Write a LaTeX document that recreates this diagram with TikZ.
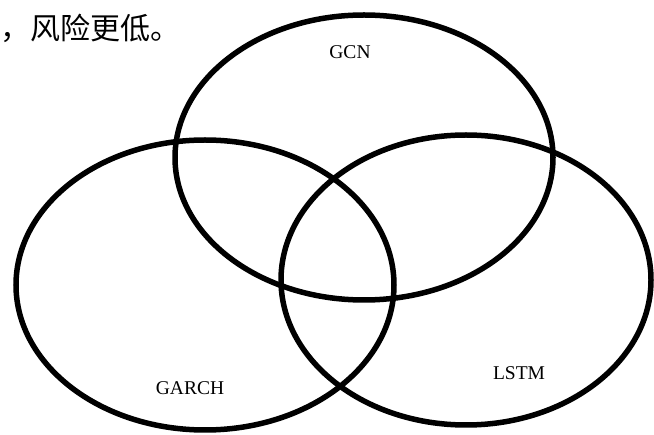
\documentclass[tikz,border=0pt]{standalone}
\usepackage{fontspec}
\setmainfont{Liberation Serif}
\newfontfamily\cjk{Noto Sans CJK SC}
\usetikzlibrary{shapes.geometric}
\tikzset{
  setring/.style={ellipse,draw=black,line width=5.5pt,inner sep=0pt},
  setlbl/.style={font=\fontsize{19.5}{20}\selectfont,inner sep=0pt},
  textlbl/.style={font=\cjk\fontsize{30}{30}\selectfont,inner sep=0pt},
}
\begin{document}
\begin{tikzpicture}[x=1pt,y=-1pt]
  \useasboundingbox (0,0) rectangle (654,435);
  % the three sets
  \node[setring,minimum width=378pt,minimum height=285pt] (gcn) at (364,157.5) {};
  \node[setring,minimum width=378pt,minimum height=290pt] (garch) at (205,285) {};
  \node[setring,minimum width=370pt,minimum height=290pt] (lstm) at (466,280) {};
  % names
  \node[setlbl] (gcnlbl) at (350,52) {GCN};
  \node[setlbl] (garchlbl) at (190,388) {GARCH};
  \node[setlbl] (lstmlbl) at (519,373) {LSTM};
  % cut-off line of text
  \node[textlbl,anchor=west] (tail) at (0,28) {，风险更低。};
\end{tikzpicture}
\end{document}
